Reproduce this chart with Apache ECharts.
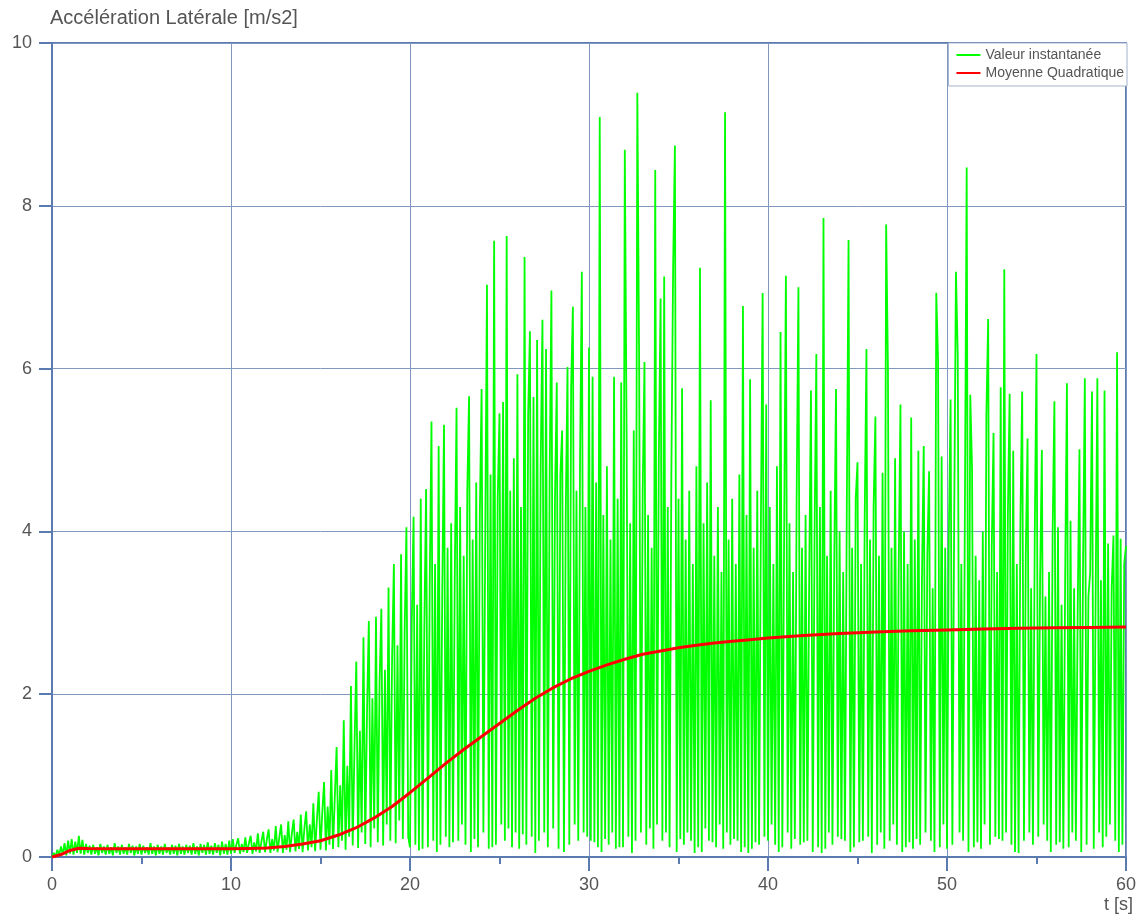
<!DOCTYPE html>
<html>
<head>
<meta charset="utf-8">
<title>Accélération Latérale</title>
<script src="https://cdn.jsdelivr.net/npm/echarts@6/dist/echarts.min.js"></script>
<style>
  html, body { margin: 0; padding: 0; background: #fff; }
  #chart { width: 1141px; height: 917px; }
</style>
</head>
<body>
<div id="chart"></div>
<script>
// Sample step of the instantaneous signal, in seconds
const sampleStep = 0.1;

// Instantaneous lateral acceleration [m/s2], one array per 10 s block
const accel_00_10 = [
  0.00, 0.05, 0.01, 0.09, 0.02, 0.13, 0.03, 0.17, 0.02, 0.20,
  0.04, 0.22, 0.03, 0.19, 0.05, 0.26, 0.04, 0.21, 0.03, 0.16,
  0.05, 0.14, 0.03, 0.15, 0.04, 0.12, 0.02, 0.16, 0.05, 0.13,
  0.03, 0.15, 0.04, 0.12, 0.02, 0.17, 0.05, 0.13, 0.03, 0.15,
  0.04, 0.12, 0.03, 0.16, 0.05, 0.14, 0.02, 0.13, 0.04, 0.16,
  0.03, 0.14, 0.05, 0.12, 0.03, 0.17, 0.04, 0.13, 0.02, 0.15,
  0.04, 0.13, 0.03, 0.16, 0.05, 0.12, 0.03, 0.15, 0.04, 0.14,
  0.02, 0.16, 0.04, 0.13, 0.03, 0.15, 0.05, 0.14, 0.03, 0.17,
  0.04, 0.13, 0.02, 0.16, 0.05, 0.15, 0.03, 0.18, 0.04, 0.14,
  0.03, 0.17, 0.05, 0.15, 0.02, 0.19, 0.04, 0.16, 0.03, 0.20
];
const accel_10_20 = [
  0.04, 0.22, 0.05, 0.15, 0.23, 0.04, 0.16, 0.06, 0.24, 0.05,
  0.17, 0.26, 0.04, 0.18, 0.07, 0.29, 0.05, 0.19, 0.31, 0.06,
  0.21, 0.34, 0.05, 0.22, 0.08, 0.38, 0.06, 0.24, 0.40, 0.05,
  0.27, 0.09, 0.44, 0.06, 0.29, 0.46, 0.07, 0.31, 0.10, 0.52,
  0.06, 0.35, 0.56, 0.08, 0.40, 0.12, 0.66, 0.07, 0.46, 0.80,
  0.09, 0.55, 0.92, 0.08, 0.62, 0.15, 1.07, 0.10, 0.74, 1.35,
  0.12, 0.88, 0.20, 1.68, 0.09, 1.12, 0.25, 2.10, 0.14, 1.35,
  2.40, 0.11, 1.55, 0.30, 2.70, 0.16, 1.80, 2.90, 0.12, 1.95,
  0.35, 2.95, 0.18, 2.15, 3.05, 0.14, 2.30, 0.40, 3.31, 0.20,
  2.45, 3.60, 0.17, 2.60, 0.45, 3.72, 0.22, 2.75, 4.05, 0.25
];
const accel_20_30 = [
  0.12, 2.90, 4.18, 0.15, 3.10, 0.08, 4.40, 0.10, 2.80, 4.52,
  0.12, 3.30, 5.35, 0.20, 3.60, 0.06, 5.05, 0.15, 3.20, 5.31,
  0.25, 3.80, 0.12, 4.10, 0.18, 3.40, 5.52, 0.20, 4.30, 0.40,
  3.70, 0.15, 4.50, 5.66, 0.06, 3.90, 0.22, 4.60, 0.12, 4.20,
  5.75, 0.30, 3.80, 7.03, 0.10, 4.70, 0.12, 7.57, 0.15, 4.40,
  5.45, 0.40, 5.59, 0.20, 7.63, 0.35, 4.50, 0.12, 4.90, 0.30,
  5.93, 0.10, 4.30, 0.28, 7.37, 0.15, 5.42, 6.46, 0.25, 5.65,
  0.05, 6.35, 0.20, 4.80, 6.60, 0.30, 6.24, 0.12, 4.60, 6.96,
  0.35, 4.40, 5.83, 0.10, 4.70, 5.24, 0.06, 4.20, 6.02, 0.15,
  5.76, 6.76, 0.40, 4.50, 0.20, 4.90, 7.19, 0.30, 4.30, 0.25
];
const accel_30_40 = [
  6.26, 0.20, 5.90, 0.18, 4.60, 0.12, 9.09, 0.06, 4.20, 0.22,
  4.80, 0.15, 3.90, 0.30, 5.90, 0.10, 4.40, 0.12, 5.83, 0.12,
  8.69, 5.24, 0.25, 4.10, 0.05, 5.24, 0.20, 9.39, 6.15, 0.30,
  4.50, 6.08, 0.15, 4.20, 0.35, 3.80, 0.10, 8.44, 0.40, 4.90,
  6.86, 0.20, 7.13, 0.30, 4.30, 0.12, 4.70, 7.24, 8.74, 0.06,
  4.40, 0.22, 5.76, 0.15, 3.90, 0.30, 4.50, 0.20, 3.60, 0.05,
  4.80, 0.12, 7.24, 0.06, 4.10, 0.35, 4.60, 0.20, 5.61, 0.18,
  3.70, 0.12, 4.30, 0.40, 3.50, 0.10, 9.15, 0.30, 3.90, 0.15,
  4.40, 0.22, 3.60, 0.20, 4.70, 0.06, 6.77, 0.12, 4.20, 0.05,
  5.87, 0.10, 3.80, 0.18, 4.50, 0.15, 4.00, 6.93, 0.25, 5.56
];
const accel_40_50 = [
  0.20, 4.30, 0.40, 3.60, 0.15, 4.80, 0.06, 6.45, 0.12, 3.90,
  7.14, 0.30, 4.10, 0.10, 3.50, 0.22, 4.40, 7.00, 0.15, 3.80,
  0.18, 4.20, 0.20, 3.40, 5.73, 0.06, 3.90, 6.18, 0.12, 4.30,
  0.05, 7.85, 0.10, 3.70, 0.30, 4.50, 0.15, 3.60, 5.75, 0.25,
  4.00, 0.22, 3.50, 0.20, 4.20, 7.58, 0.06, 3.80, 0.12, 4.40,
  4.85, 0.18, 3.60, 0.20, 4.10, 6.24, 0.25, 3.90, 0.05, 4.30,
  5.41, 0.15, 3.70, 0.30, 4.72, 0.10, 7.77, 6.02, 0.20, 3.80,
  0.40, 4.90, 0.15, 3.50, 5.56, 0.06, 4.00, 0.12, 3.60, 0.18,
  5.40, 0.10, 3.90, 0.22, 4.99, 0.15, 3.40, 5.05, 0.30, 3.70,
  4.74, 0.20, 3.30, 0.06, 6.93, 6.11, 0.12, 4.92, 0.40, 3.80
];
const accel_50_60 = [
  0.10, 3.90, 5.62, 0.15, 4.10, 7.19, 6.16, 0.30, 3.60, 0.20,
  4.30, 8.47, 0.06, 5.68, 4.77, 0.12, 3.70, 0.18, 3.40, 0.10,
  4.00, 0.40, 5.44, 6.61, 0.15, 3.80, 5.21, 0.25, 3.50, 0.22,
  5.77, 0.20, 7.22, 0.30, 4.20, 5.69, 0.15, 4.99, 0.06, 3.60,
  0.05, 4.10, 5.72, 0.20, 3.70, 5.14, 0.30, 3.30, 0.15, 3.90,
  6.18, 0.25, 3.40, 5.00, 0.40, 3.20, 0.20, 3.50, 0.06, 3.97,
  5.60, 0.15, 4.05, 0.18, 3.10, 0.10, 3.40, 5.82, 0.12, 4.13,
  0.30, 3.30, 0.20, 3.00, 5.01, 0.06, 3.56, 5.88, 0.15, 3.20,
  3.50, 5.72, 0.10, 3.10, 5.88, 0.30, 3.40, 0.12, 5.73, 0.25,
  3.85, 0.40, 3.30, 3.95, 0.20, 6.20, 0.06, 3.91, 0.15, 3.60,
  3.82
];

// Root mean square of the signal (running value)
const rmsTime = [
  0, 0.5, 1, 1.5, 2, 3, 4, 5, 6, 7, 8, 9, 10, 11, 12, 13, 14, 15, 16, 17,
  18, 19, 20, 21, 22, 23, 24, 25, 26, 27, 28, 29, 30, 31, 32, 33, 34, 35,
  36, 37, 38, 39, 40, 42, 44, 46, 48, 50, 52, 54, 56, 58, 60
];
const rmsValue = [
  0, 0.03, 0.08, 0.108, 0.105, 0.1, 0.1, 0.1, 0.1, 0.1, 0.1, 0.1, 0.1, 0.105,
  0.11, 0.13, 0.16, 0.2, 0.27, 0.36, 0.48, 0.62, 0.79, 0.97, 1.15, 1.32, 1.48,
  1.64, 1.8, 1.95, 2.08, 2.19, 2.28, 2.36, 2.43, 2.49, 2.53, 2.57, 2.6, 2.63,
  2.65, 2.67, 2.69, 2.72, 2.745, 2.765, 2.78, 2.79, 2.8, 2.81, 2.815, 2.82, 2.825
];

// Axis ticks
const xTicks = { min: 0, max: 60, step: 10 };
const yTicks = { min: 0, max: 10, step: 2 };

const seriesNames = ['Valeur instantanée', 'Moyenne Quadratique'];

// Build [time, value] pairs
const accelValues = [].concat(accel_00_10, accel_10_20, accel_20_30,
                              accel_30_40, accel_40_50, accel_50_60);
const accelData = accelValues.map((v, i) => [+(i * sampleStep).toFixed(1), v]);
const rmsData = rmsTime.map((t, i) => [t, rmsValue[i]]);

const FONT = '"Liberation Sans", Arial, Helvetica, sans-serif';
const TEXT = '#555555';
const AXIS = '#5b7bb0';
const GRID = '#8097c0';

const chart = echarts.init(document.getElementById('chart'), null, { renderer: 'canvas' });
chart.setOption({
  animation: false,
  backgroundColor: '#ffffff',
  textStyle: { fontFamily: FONT },
  title: [
    {
      text: 'Accélération Latérale [m/s2]',
      left: 50, top: 8, padding: 0,
      textStyle: { fontSize: 20, fontWeight: 'normal', color: TEXT, fontFamily: FONT }
    },
    {
      text: 't [s]',
      right: 8, top: 896, padding: 0,
      textStyle: { fontSize: 18, fontWeight: 'normal', color: TEXT, fontFamily: FONT }
    }
  ],
  legend: {
    data: seriesNames,
    orient: 'vertical',
    right: 14, top: 43,
    padding: [5, 3, 6, 7],
    itemWidth: 24, itemHeight: 10, itemGap: 4,
    itemStyle: { opacity: 0 },
    backgroundColor: '#ffffff',
    borderColor: '#a3b3cf', borderWidth: 1, borderRadius: 0,
    textStyle: { fontSize: 14, color: TEXT, fontFamily: FONT }
  },
  grid: {
    left: 52, right: 15, top: 43, bottom: 60,
    show: true, borderColor: AXIS, borderWidth: 2, backgroundColor: 'transparent'
  },
  xAxis: {
    type: 'value',
    min: xTicks.min, max: xTicks.max, interval: xTicks.step,
    axisLine: { show: true, lineStyle: { color: AXIS, width: 2 } },
    axisTick: { show: true, length: 14, lineStyle: { color: AXIS, width: 2 } },
    minorTick: { show: true, splitNumber: 2, length: 7, lineStyle: { color: AXIS, width: 2 } },
    splitLine: { show: true, lineStyle: { color: GRID, width: 1 } },
    axisLabel: { margin: 19, fontSize: 18, color: TEXT, fontFamily: FONT }
  },
  yAxis: {
    type: 'value',
    min: yTicks.min, max: yTicks.max, interval: yTicks.step,
    axisLine: { show: true, lineStyle: { color: AXIS, width: 2 } },
    axisTick: { show: true, length: 13, lineStyle: { color: AXIS, width: 2 } },
    splitLine: { show: true, lineStyle: { color: GRID, width: 1 } },
    axisLabel: { margin: 20, fontSize: 18, color: TEXT, fontFamily: FONT }
  },
  series: [
    {
      name: seriesNames[0],
      type: 'line',
      data: accelData,
      symbol: 'none',
      sampling: null,
      lineStyle: { color: '#00ff00', width: 1.8 },
      itemStyle: { color: '#00ff00' },
      z: 2
    },
    {
      name: seriesNames[1],
      type: 'line',
      data: rmsData,
      symbol: 'none',
      smooth: false,
      lineStyle: { color: '#ff0000', width: 3 },
      itemStyle: { color: '#ff0000' },
      z: 3
    }
  ]
});
</script>
</body>
</html>
